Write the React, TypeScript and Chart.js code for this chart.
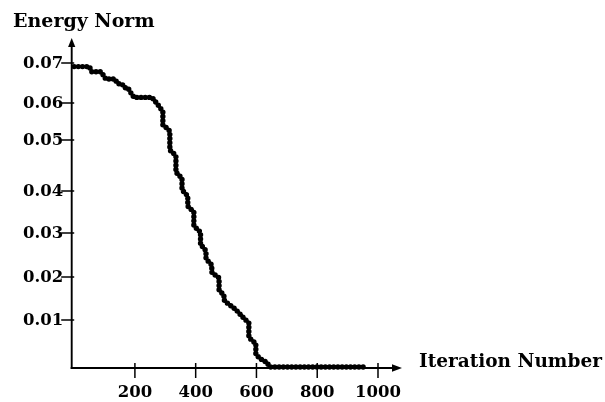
import { useEffect, useRef } from 'react';
import { Chart, registerables, LinearScale } from 'chart.js';

// ---- data ----
const ITERATIONS = [0, 50, 58, 88, 98, 104, 134, 144, 157, 167, 177, 187, 197, 256, 266, 276, 286, 292, 292, 305, 315, 315, 325, 335, 335, 345, 355, 355, 365, 374, 374, 384, 394, 394, 404, 416, 416, 427, 434, 434, 444, 453, 453, 463, 477, 477, 483, 493, 493, 503, 516, 529, 539, 552, 562, 575, 575, 585, 598, 598, 608, 621, 634, 644, 955];
const ENERGY_NORM = [0.0691, 0.0691, 0.0678, 0.0678, 0.0668, 0.066, 0.066, 0.0648, 0.0648, 0.0638, 0.0638, 0.0625, 0.0614, 0.0614, 0.0605, 0.0595, 0.0584, 0.0576, 0.0541, 0.0532, 0.0524, 0.048, 0.0475, 0.0469, 0.0437, 0.0431, 0.0425, 0.0402, 0.0395, 0.0388, 0.0364, 0.0357, 0.035, 0.0317, 0.031, 0.0302, 0.0273, 0.0266, 0.0259, 0.0241, 0.0234, 0.0227, 0.0211, 0.0205, 0.0198, 0.017, 0.0165, 0.0158, 0.0147, 0.014, 0.0133, 0.0126, 0.0119, 0.0109, 0.0102, 0.0094, 0.0064, 0.0057, 0.0051, 0.0028, 0.0021, 0.0015, 0.0011, 0.0001, 0.0001];

const X_TICKS = [200, 400, 600, 800, 1000];
const X_TICK_LABELS = ['200', '400', '600', '800', '1000'];
const Y_TICKS = [0.01, 0.02, 0.03, 0.04, 0.05, 0.06, 0.07];
const Y_TICK_LABELS = ['0.01', '0.02', '0.03', '0.04', '0.05', '0.06', '0.07'];
const Y_TITLE = 'Energy Norm';
const X_TITLE = 'Iteration Number';

// The reference's vertical axis is not evenly divided: relative length of each interval.
const Y_SCALE_BREAKS = [0, 0.01, 0.02, 0.03, 0.04, 0.05, 0.06, 0.07, 0.0763];
const Y_SCALE_SPANS = [47.5, 43, 44, 42, 51, 37, 40, 25];

class PiecewiseScale extends LinearScale {
  static id = 'piecewise';
  static defaults = LinearScale.defaults;

  decimalFor(value: number) {
    const total = Y_SCALE_SPANS.reduce((s, v) => s + v, 0);
    let acc = 0;
    const n = Y_SCALE_BREAKS.length;
    if (value <= Y_SCALE_BREAKS[0]) {
      return ((value - Y_SCALE_BREAKS[0]) / (Y_SCALE_BREAKS[1] - Y_SCALE_BREAKS[0])) * Y_SCALE_SPANS[0] / total;
    }
    for (let i = 0; i < n - 1; i++) {
      const a = Y_SCALE_BREAKS[i], b = Y_SCALE_BREAKS[i + 1];
      if (value <= b || i === n - 2) {
        return (acc + ((value - a) / (b - a)) * Y_SCALE_SPANS[i]) / total;
      }
      acc += Y_SCALE_SPANS[i];
    }
    return 1;
  }

  getPixelForValue(value: any) {
    if (value === undefined || value === null || isNaN(value)) return NaN;
    return this.getPixelForDecimal(this.decimalFor(+value));
  }

  getValueForPixel(pixel: number) {
    const d = this.getDecimalForPixel(pixel);
    const total = Y_SCALE_SPANS.reduce((s, v) => s + v, 0);
    let target = d * total;
    for (let i = 0; i < Y_SCALE_SPANS.length; i++) {
      if (target <= Y_SCALE_SPANS[i] || i === Y_SCALE_SPANS.length - 1) {
        const a = Y_SCALE_BREAKS[i], b = Y_SCALE_BREAKS[i + 1];
        return a + (target / Y_SCALE_SPANS[i]) * (b - a);
      }
      target -= Y_SCALE_SPANS[i];
    }
    return Y_SCALE_BREAKS[Y_SCALE_BREAKS.length - 1];
  }
}

Chart.register(...registerables, PiecewiseScale);

const TICK_FONT = 'bold 16.5px "DejaVu Serif", serif';
const Y_TITLE_FONT = 'bold 19px "DejaVu Serif", serif';
const X_TITLE_FONT = 'bold 18.5px "DejaVu Serif", serif';

const handAxes = {
  id: 'handAxes',
  beforeDatasetsDraw(chart: any) {
    const { ctx, chartArea: a, scales } = chart;
    const xs = scales.x;
    const ys = scales.y;
    const x0 = a.left;
    const y0 = a.bottom + 0.5;
    ctx.save();
    ctx.strokeStyle = '#000';
    ctx.fillStyle = '#000';
    ctx.lineWidth = 1.9;
    // y axis + arrow
    ctx.beginPath();
    ctx.moveTo(x0, y0 + 1);
    ctx.lineTo(x0, a.top + 6);
    ctx.stroke();
    ctx.beginPath();
    ctx.moveTo(x0, a.top);
    ctx.lineTo(x0 - 3.6, a.top + 9);
    ctx.lineTo(x0 + 3.6, a.top + 9);
    ctx.closePath();
    ctx.fill();
    // x axis + arrow
    ctx.beginPath();
    ctx.moveTo(x0 - 1, y0);
    ctx.lineTo(a.right - 6, y0);
    ctx.stroke();
    ctx.beginPath();
    ctx.moveTo(a.right, y0);
    ctx.lineTo(a.right - 10, y0 - 3.8);
    ctx.lineTo(a.right - 10, y0 + 3.8);
    ctx.closePath();
    ctx.fill();

    // ticks
    ctx.lineWidth = 1.5;
    ctx.font = TICK_FONT;
    ctx.textAlign = 'right';
    ctx.textBaseline = 'alphabetic';
    Y_TICKS.forEach((v, i) => {
      const py = ys.getPixelForValue(v);
      ctx.beginPath();
      ctx.moveTo(x0 - 10.5, py);
      ctx.lineTo(x0 + 2.5, py);
      ctx.stroke();
      ctx.fillText(Y_TICK_LABELS[i], x0 - 8.5, py + 5);
    });
    ctx.textAlign = 'center';
    X_TICKS.forEach((v, i) => {
      const px = xs.getPixelForValue(v);
      ctx.beginPath();
      ctx.moveTo(px, y0 - 5);
      ctx.lineTo(px, y0 + 10);
      ctx.stroke();
      ctx.fillText(X_TICK_LABELS[i], px, y0 + 28.5);
    });

    // titles
    ctx.textAlign = 'left';
    ctx.font = Y_TITLE_FONT;
    ctx.fillText(Y_TITLE, x0 - 58.7, a.top - 11);
    ctx.font = X_TITLE_FONT;
    ctx.fillText(X_TITLE, a.right + 17, y0 - 1.5);
    ctx.restore();
  },
};

export default function App() {
  const ref = useRef<HTMLCanvasElement | null>(null);

  useEffect(() => {
    if (!ref.current) return;
    const points = ITERATIONS.map((x, i) => ({ x, y: ENERGY_NORM[i] }));
    const chart = new Chart(ref.current, {
      type: 'line',
      data: {
        datasets: [
          {
            data: points,
            borderColor: '#000',
            backgroundColor: '#000',
            borderWidth: 5.4,
            borderDash: [0, 4.2],
            borderCapStyle: 'round',
            borderJoinStyle: 'round',
            pointRadius: 0,
            tension: 0,
            fill: false,
            clip: false,
          } as any,
        ],
      },
      options: {
        responsive: false,
        animation: false,
        events: [],
        layout: { padding: { left: 71.7, right: 203, top: 38, bottom: 34.5 } },
        plugins: {
          legend: { display: false },
          title: { display: false },
          tooltip: { enabled: false },
        },
        scales: {
          x: { type: 'linear', min: -8, max: 1079, display: false },
          y: { type: 'piecewise' as any, min: 0, max: 0.0763, display: false },
        },
      },
      plugins: [handAxes],
    });
    return () => chart.destroy();
  }, []);

  return (
    <div style={{ position: 'fixed', left: 0, top: 0, width: 605, height: 402, background: '#fff' }}>
      <canvas ref={ref} width={605} height={402} style={{ display: 'block', width: 605, height: 402 }} />
    </div>
  );
}
